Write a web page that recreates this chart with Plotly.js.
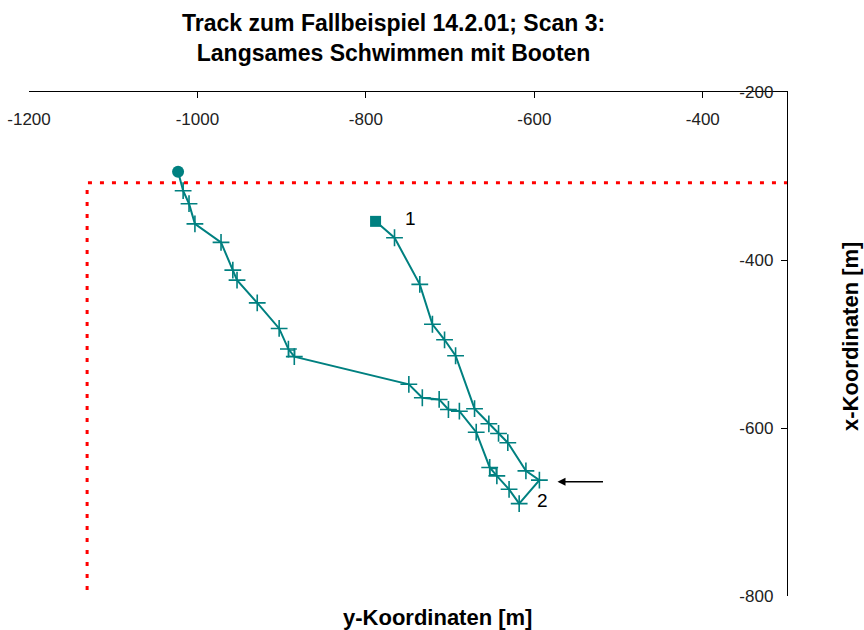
<!DOCTYPE html>
<html>
<head>
<meta charset="utf-8">
<script src="https://cdn.plot.ly/plotly-3.0.1.min.js"></script>
<style>html,body{margin:0;padding:0;background:#fff;}#chart{width:864px;height:630px;}</style>
</head>
<body>
<div id="chart"></div>
<script>
// Track points (y-Koordinate on horizontal axis, x-Koordinate on vertical axis)
const trackY = [-1023, -1017, -1010, -1003, -972, -958, -953, -929, -903, -892, -888, -885,
                -749, -733, -713, -702, -689, -669, -653, -649, -644.5, -630, -618, -594,
                -610, -631.5, -642.5, -654, -671, -693.5, -706.6, -721, -736, -766, -788.5];
const trackX = [-295, -317.5, -333, -357, -379, -412, -424, -451, -481.5, -506, -511, -515,
                -548, -564, -566, -578, -580, -605, -647, -652, -657, -673, -690, -662,
                -651, -617.5, -606.5, -595, -577, -514, -495, -476.5, -429, -373.5, -354];
const startIdx = 0;
const endIdx = trackY.length - 1;
const openSquareIdx = [10, 19];

// Red dotted reference lines
const refY = [-1131, -1131, -291];
const refX = [-807, -308, -308];

// Point labels
const labelText = ['1', '2'];
const labelY = [-747, -590];
const labelX = [-351, -686];

// Arrow pointing at point 2
const arrowHeadY = -572.5, arrowTailY = -516.7, arrowX = -664;

// Axis ticks
const xTicks = [-1200, -1000, -800, -600, -400];
const yTicks = [-800, -600, -400, -200];

const teal = '#008080';
const FONT = 'Liberation Sans, Arial, sans-serif';
const crossIdx = trackY.map((_, i) => i).filter(i => i !== startIdx && i !== endIdx && !openSquareIdx.includes(i));

const traces = [
  {x: refY, y: refX, mode: 'lines', line: {color: '#ff0000', width: 3, dash: '4px,8px'}, hoverinfo: 'skip'},
  {x: trackY, y: trackX, mode: 'lines', line: {color: teal, width: 2}},
  {x: crossIdx.map(i => trackY[i]), y: crossIdx.map(i => trackX[i]), mode: 'markers',
   marker: {symbol: 'cross-thin-open', size: 12, line: {color: teal, width: 1.6}, color: teal}},
  {x: openSquareIdx.map(i => trackY[i]), y: openSquareIdx.map(i => trackX[i]), mode: 'markers',
   marker: {symbol: 'square-open', size: 6, line: {color: teal, width: 1.2}, color: teal}},
  {x: [trackY[startIdx]], y: [trackX[startIdx]], mode: 'markers', marker: {symbol: 'circle', size: 12, color: teal}},
  {x: [trackY[endIdx]], y: [trackX[endIdx]], mode: 'markers', marker: {symbol: 'square', size: 11, color: teal}}
];

const annotations = labelText.map((t, i) => ({
  x: labelY[i], y: labelX[i], xref: 'x', yref: 'y', text: t, showarrow: false,
  font: {family: FONT, size: 19, color: '#000'}
}));
annotations.push({
  x: arrowHeadY, y: arrowX, ax: arrowTailY, ay: arrowX, xref: 'x', yref: 'y', axref: 'x', ayref: 'y',
  text: '', showarrow: true, arrowhead: 2, arrowsize: 1, arrowwidth: 1.6, arrowcolor: '#000'
});
annotations.push({
  text: 'Track zum Fallbeispiel 14.2.01; Scan 3:<br>Langsames Schwimmen mit Booten',
  xref: 'paper', yref: 'paper', x: (393 - 29) / 758, y: 1, yshift: 54,
  xanchor: 'center', yanchor: 'middle', showarrow: false,
  font: {family: FONT, size: 23, color: '#000', weight: 'bold'}
});
annotations.push({
  text: 'y-Koordinaten [m]', xref: 'paper', yref: 'paper', x: (437 - 29) / 758, y: 0, yshift: -21,
  xanchor: 'center', yanchor: 'middle', showarrow: false,
  font: {family: FONT, size: 22, color: '#000', weight: 'bold'}
});
annotations.push({
  text: 'x-Koordinaten [m]', xref: 'paper', yref: 'paper', x: 1, xshift: 63, y: 0.5, yshift: 7,
  xanchor: 'center', yanchor: 'middle', textangle: -90, showarrow: false,
  font: {family: FONT, size: 22, color: '#000', weight: 'bold'}
});

const layout = {
  width: 864, height: 630,
  margin: {l: 29, r: 77, t: 92, b: 34},
  paper_bgcolor: '#fff', plot_bgcolor: '#fff',
  showlegend: false,
  font: {family: FONT, color: '#222'},
  xaxis: {
    side: 'top', range: [-1200, -300], tickvals: xTicks, ticktext: xTicks.map(String),
    ticks: 'inside', ticklen: 6, tickcolor: '#000', tickwidth: 1,
    ticklabelposition: 'inside', ticklabelstandoff: 16, ticklabeloverflow: 'allow',
    showline: true, linecolor: '#000', linewidth: 1, showgrid: false, zeroline: false,
    tickfont: {size: 17, color: '#222'}
  },
  yaxis: {
    side: 'right', range: [-800, -200], tickvals: yTicks, ticktext: yTicks.map(String),
    ticks: 'inside', ticklen: 6, tickcolor: '#000', tickwidth: 1,
    ticklabelposition: 'inside', ticklabelstandoff: 8, ticklabeloverflow: 'allow',
    showline: true, linecolor: '#000', linewidth: 1, showgrid: false, zeroline: false,
    tickfont: {size: 17, color: '#222'}
  },
  annotations: annotations
};

Plotly.newPlot('chart', traces, layout, {displayModeBar: false, staticPlot: true});
</script>
</body>
</html>
